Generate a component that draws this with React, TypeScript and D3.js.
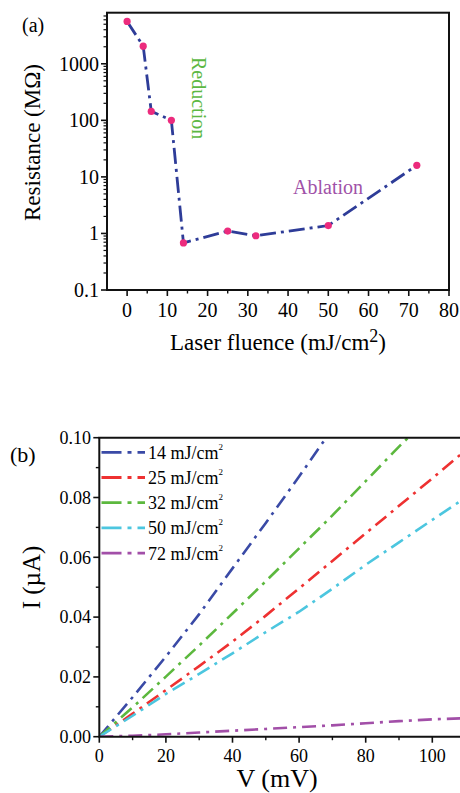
import React from "react";
import * as d3 from "d3";

// Panel (a): resistance vs laser fluence
const fluence = [0, 4, 6, 11, 14, 25, 32, 50, 72];
const resistance = [5600, 2050, 144, 100, 0.68, 1.1, 0.91, 1.38, 16];
const aXTicks = [0, 10, 20, 30, 40, 50, 60, 70, 80];
const aYTicks = [0.1, 1, 10, 100, 1000];
const aYTickLabels = ["0.1", "1", "10", "100", "1000"];

// Panel (b): I-V curves
const voltage = [0, 10, 20, 30, 40, 50, 60, 70, 80, 90, 100, 110];
const seriesNames = ["14 mJ/cm", "25 mJ/cm", "32 mJ/cm", "50 mJ/cm", "72 mJ/cm"];
const seriesColors = ["#3a4aa6", "#ee3131", "#5cb83e", "#4cc6df", "#a24fa8"];
const i14 = [0, 0.0132, 0.0268, 0.041, 0.0563, 0.0715, 0.087, 0.103];
const i25 = [0, 0.0077, 0.0156, 0.0236, 0.0318, 0.0405, 0.0496, 0.0588, 0.068, 0.0772, 0.0864, 0.0958];
const i32 = [0, 0.0098, 0.0201, 0.0305, 0.0412, 0.052, 0.063, 0.074, 0.0855, 0.097, 0.108];
const i50 = [0, 0.007, 0.0143, 0.021, 0.0279, 0.035, 0.0418, 0.0495, 0.0575, 0.065, 0.0725, 0.08];
const i72 = [0, 0.0003, 0.0008, 0.0014, 0.002, 0.0026, 0.0032, 0.0038, 0.0045, 0.0052, 0.0058, 0.0062];
const seriesValues = [i14, i25, i32, i50, i72];
const bXTicks = [0, 20, 40, 60, 80, 100];
const bYTicks = [0, 0.02, 0.04, 0.06, 0.08, 0.1];

const FONT = '"Liberation Serif", "Times New Roman", "DejaVu Serif", serif';

export default function App() {
  // Panel a scales
  const aL = 107, aR = 449, aT = 12.7, aB = 290;
  const xA = d3.scaleLinear().domain([-5, 80]).range([aL, aR]);
  const yA = d3.scaleLog().domain([0.1, 8000]).range([aB, aT]);
  const lineA = d3
    .line<number>()
    .x((_, i) => xA(fluence[i]))
    .y((d) => yA(d));

  const aMinorY: number[] = [];
  for (let e = -1; e <= 3; e++) {
    for (let m = 2; m <= 9; m++) {
      const v = m * Math.pow(10, e);
      if (v < 8000) aMinorY.push(v);
    }
  }
  const aMinorX = d3.range(-5, 80, 10).filter((v) => v > -5);

  // Panel b scales
  const bL = 99.3, bT = 437.7, bB = 736.7, bR = 460;
  const xB = d3.scaleLinear().domain([0, 100]).range([bL, 432.3]);
  const yB = d3.scaleLinear().domain([0, 0.1]).range([bB, bT]);
  const lineB = d3
    .line<number>()
    .x((_, i) => xB(voltage[i]))
    .y((d) => yB(d));
  const bMinorX = [10, 30, 50, 70, 90];
  const bMinorY = [0.01, 0.03, 0.05, 0.07, 0.09];

  const legendY0 = 452.3;
  const legendDy = 25.2;

  return (
    <svg
      width={460}
      height={793}
      style={{ position: "absolute", left: 0, top: 0, background: "#fff", fontFamily: FONT }}
    >
      <defs>
        <clipPath id="clipB">
          <rect x={bL} y={bT} width={bR - bL} height={bB - bT} />
        </clipPath>
      </defs>

      {/* ---------- Panel (a) ---------- */}
      <text x={22} y={32} fontSize={20}>(a)</text>

      {/* frame */}
      <rect x={aL} y={aT} width={aR - aL} height={aB - aT} fill="none" stroke="#111" strokeWidth={2} />

      {/* x ticks */}
      {aXTicks.map((t) => (
        <g key={"ax" + t}>
          <line x1={xA(t)} x2={xA(t)} y1={aB} y2={aB + 6} stroke="#111" strokeWidth={1.6} />
          <text x={xA(t)} y={317} fontSize={20} textAnchor="middle">{t}</text>
        </g>
      ))}
      {aMinorX.map((t) => (
        <line key={"axm" + t} x1={xA(t)} x2={xA(t)} y1={aB} y2={aB + 3.5} stroke="#111" strokeWidth={1.4} />
      ))}

      {/* y ticks */}
      {aYTicks.map((t, i) => (
        <g key={"ay" + t}>
          <line x1={aL - 6} x2={aL} y1={yA(t)} y2={yA(t)} stroke="#111" strokeWidth={1.6} />
          <text x={aL - 8} y={yA(t)} dy="0.35em" fontSize={20} textAnchor="end">{aYTickLabels[i]}</text>
        </g>
      ))}
      {aMinorY.map((t) => (
        <line key={"aym" + t} x1={aL - 3.5} x2={aL} y1={yA(t)} y2={yA(t)} stroke="#111" strokeWidth={1.2} />
      ))}

      {/* data line */}
      <path
        d={lineA(resistance) || ""}
        fill="none"
        stroke="#2e3c98"
        strokeWidth={2.8}
        strokeDasharray="16 5 3 5"
      />
      {resistance.map((r, i) => (
        <circle key={"pt" + i} cx={xA(fluence[i])} cy={yA(r)} r={3.6} fill="#ec2b7d" />
      ))}

      {/* annotations */}
      <text x={192} y={57} fontSize={20} fill="#5cb843" transform="rotate(90 192 57)">Reduction</text>
      <text x={293} y={194} fontSize={20} fill="#a052a8">Ablation</text>

      {/* axis labels */}
      <text x={40} y={142.5} fontSize={23} textAnchor="middle" transform="rotate(-90 40 142.5)">
        Resistance (MΩ)
      </text>
      <text x={278} y={350} fontSize={23} textAnchor="middle">
        Laser fluence (mJ/cm<tspan fontSize={18} dy={-8}>2</tspan><tspan dy={8}>)</tspan>
      </text>

      {/* ---------- Panel (b) ---------- */}
      <text x={10} y={462} fontSize={22}>(b)</text>

      {/* curves */}
      <g clipPath="url(#clipB)">
        {seriesValues.map((vals, k) => (
          <path
            key={"s" + k}
            d={lineB(vals) || ""}
            fill="none"
            stroke={seriesColors[k]}
            strokeWidth={2.6}
            strokeDasharray="14 6 3 6"
          />
        ))}
      </g>

      {/* frame: left, top, bottom */}
      <line x1={bL} x2={bL} y1={bT} y2={bB} stroke="#111" strokeWidth={2} />
      <line x1={bL - 1} x2={bR} y1={bT} y2={bT} stroke="#111" strokeWidth={2} />
      <line x1={bL - 1} x2={bR} y1={bB} y2={bB} stroke="#111" strokeWidth={2} />

      {/* x ticks */}
      {bXTicks.map((t) => (
        <g key={"bx" + t}>
          <line x1={xB(t)} x2={xB(t)} y1={bB} y2={bB + 6} stroke="#111" strokeWidth={1.6} />
          <text x={xB(t)} y={761.5} fontSize={18} textAnchor="middle">{t}</text>
        </g>
      ))}
      {bMinorX.map((t) => (
        <line key={"bxm" + t} x1={xB(t)} x2={xB(t)} y1={bB} y2={bB + 3.5} stroke="#111" strokeWidth={1.4} />
      ))}

      {/* y ticks */}
      {bYTicks.map((t) => (
        <g key={"by" + t}>
          <line x1={bL - 6} x2={bL} y1={yB(t)} y2={yB(t)} stroke="#111" strokeWidth={1.6} />
          <text x={91} y={yB(t)} dy="0.35em" fontSize={18} textAnchor="end">{t.toFixed(2)}</text>
        </g>
      ))}
      {bMinorY.map((t) => (
        <line key={"bym" + t} x1={bL - 3.5} x2={bL} y1={yB(t)} y2={yB(t)} stroke="#111" strokeWidth={1.4} />
      ))}

      {/* legend */}
      {seriesNames.map((name, k) => {
        const y = legendY0 + k * legendDy;
        return (
          <g key={"lg" + k}>
            <line
              x1={101.5}
              x2={145}
              y1={y}
              y2={y}
              stroke={seriesColors[k]}
              strokeWidth={2.8}
              strokeDasharray="20 6 4 6"
            />
            <text x={148} y={y + 6.5} fontSize={18}>
              {name}
              <tspan fontSize={9} dy={-9}>2</tspan>
            </text>
          </g>
        );
      })}

      {/* axis labels */}
      <text x={40} y={577.5} fontSize={25} textAnchor="middle" transform="rotate(-90 40 577.5)">
        I (µA)
      </text>
      <text x={277} y={787} fontSize={26} textAnchor="middle">V (mV)</text>
    </svg>
  );
}
